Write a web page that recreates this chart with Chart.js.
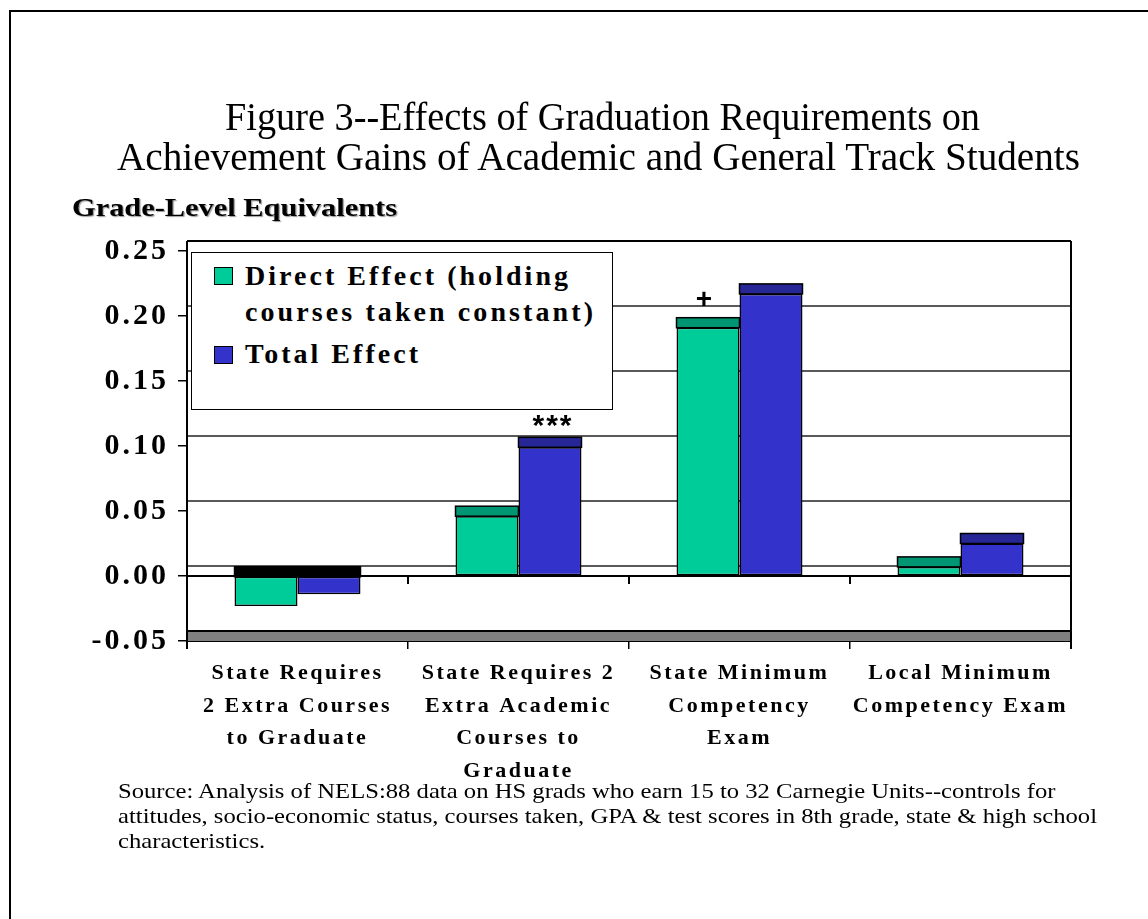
<!DOCTYPE html>
<html>
<head>
<meta charset="utf-8">
<title>Figure 3</title>
<script src="https://cdn.jsdelivr.net/npm/chart.js@4.4.1/dist/chart.umd.min.js"></script>
<style>
  html, body { margin: 0; padding: 0; background: #fff; overflow: hidden; }
  #page { position: relative; width: 1148px; height: 919px; overflow: hidden; font-family: "Liberation Serif", "Times New Roman", serif; color: #000; }
  #frame { position: absolute; left: 9px; top: 10px; width: 3000px; height: 3000px; border-left: 2px solid #000; border-top: 2px solid #000; }
  #chart { position: absolute; left: 0; top: 0; }
  .txt { position: absolute; white-space: nowrap; transform-origin: 0 0; line-height: 1; z-index: 3; }
  .title { font-size: 40px; }
  #ylab { left: 72px; top: 195px; font-size: 25px; font-weight: bold; text-shadow: 1px 1px 1px #999; }
  #legend { position: absolute; left: 191px; top: 252px; width: 422px; height: 158px; box-sizing: border-box; border: 1.5px solid #000; background: #fff; z-index: 2; }
  .sw { position: absolute; width: 19px; height: 18px; box-sizing: border-box; border: 1px solid #000; z-index: 3; }
  .lg { font-size: 28px; font-weight: bold; left: 245px; }
  #source { left: 118px; top: 779px; font-size: 21px; line-height: 25px; }
</style>
</head>
<body>
<div id="page">
  <div id="frame"></div>
  <canvas id="chart" width="1148" height="919"></canvas>

  <div class="txt title" id="t1" data-w="755" data-c="602" style="top:97px">Figure 3--Effects of Graduation Requirements on</div>
  <div class="txt title" id="t2" data-w="963" data-c="598" style="top:137px">Achievement Gains of Academic and General Track Students</div>
  <div class="txt" id="ylab" data-w="325">Grade-Level Equivalents</div>

  <div id="legend"></div>
  <div class="sw" style="left:214px;top:267px;background:#00CC99"></div>
  <div class="txt lg" data-ls="323" style="top:262px">Direct Effect (holding</div>
  <div class="txt lg" data-ls="348" style="top:298px">courses taken constant)</div>
  <div class="sw" style="left:214px;top:346px;background:#3333CC"></div>
  <div class="txt lg" data-ls="173" style="top:340px">Total Effect</div>

  <div class="txt" id="source">
    <div>Source: Analysis of NELS:88 data on HS grads who earn 15 to 32 Carnegie Units--controls for</div>
    <div id="src2">attitudes, socio-economic status, courses taken, GPA &amp; test scores in 8th grade, state &amp; high school</div>
    <div>characteristics.</div>
  </div>
</div>

<script>
const categories = [
  ["State Requires", "2 Extra Courses", "to Graduate"],
  ["State Requires 2", "Extra Academic", "Courses to", "Graduate"],
  ["State Minimum", "Competency", "Exam"],
  ["Local Minimum", "Competency Exam"]
];
const seriesNames  = ["Direct Effect (holding courses taken constant)", "Total Effect"];
const directEffect = [-0.023, 0.046, 0.191, 0.007];
const totalEffect  = [-0.014, 0.099, 0.217, 0.025];
const directNotes  = ["", "", "+", ""];
const totalNotes   = ["", "***", "", ""];
const yTicks       = [-0.05, 0.00, 0.05, 0.10, 0.15, 0.20, 0.25];

const faceColors = ["#00CC99", "#3333CC"];
const capColors  = ["#009673", "#262696"];
const notes      = [directNotes, totalNotes];
const DEPTH = 10;

document.querySelectorAll("[data-w]").forEach(el => {
  const target = +el.dataset.w;
  const w = el.getBoundingClientRect().width;
  if (el.dataset.c) el.style.left = (el.dataset.c - target / 2) + "px";
  el.style.transform = `scaleX(${target / w})`;
});
document.querySelectorAll("[data-ls]").forEach(el => {
  const w = el.getBoundingClientRect().width;
  const n = el.textContent.length;
  el.style.letterSpacing = ((+el.dataset.ls - w) / (n - 1)) + "px";
});
(() => {
  const src = document.getElementById("source");
  const w = document.getElementById("src2").getBoundingClientRect().width;
  src.style.transform = `scaleX(${979 / w})`;
})();

const depth3d = {
  id: "depth3d",
  beforeDraw(chart) {
    chart.ctx.letterSpacing = "3px";
  },
  beforeDatasetsDraw(chart) {
    const { ctx, chartArea: a, scales: { y } } = chart;
    const top = y.getPixelForValue(yTicks[yTicks.length - 1]) - DEPTH;
    ctx.save();
    ctx.letterSpacing = "0px";
    // floor
    const fy = y.getPixelForValue(yTicks[0]);
    ctx.fillStyle = "#808080";
    ctx.fillRect(a.left, fy - DEPTH, a.right - a.left, DEPTH);
    ctx.strokeStyle = "#000";
    ctx.lineWidth = 2;
    ctx.beginPath();
    ctx.moveTo(a.left, fy - DEPTH); ctx.lineTo(a.right, fy - DEPTH);
    ctx.stroke();
    // back wall gridlines
    ctx.strokeStyle = "#222";
    ctx.lineWidth = 1.5;
    yTicks.slice(1, -1).forEach(v => {
      const py = y.getPixelForValue(v) - DEPTH;
      ctx.beginPath(); ctx.moveTo(a.left, py); ctx.lineTo(a.right, py); ctx.stroke();
    });
    // top edge and side walls
    ctx.strokeStyle = "#000";
    ctx.lineWidth = 2;
    ctx.beginPath();
    ctx.moveTo(a.left, top); ctx.lineTo(a.right, top);
    ctx.moveTo(a.left, top); ctx.lineTo(a.left, a.bottom + 8);
    ctx.moveTo(a.right, top); ctx.lineTo(a.right, a.bottom + 8);
    ctx.stroke();
    ctx.restore();
  },
  afterDatasetsDraw(chart) {
    const { ctx, chartArea: a, scales: { y } } = chart;
    ctx.save();
    ctx.strokeStyle = "#000";
    ctx.lineWidth = 1.5;
    chart.data.datasets.forEach((ds, di) => {
      chart.getDatasetMeta(di).data.forEach((bar, i) => {
        const v = ds.data[i];
        const p = bar.getProps(["x", "y", "base", "width"], true);
        const left = p.x - p.width / 2;
        const edge = v >= 0 ? p.y : p.base;
        ctx.fillStyle = v >= 0 ? capColors[di] : "#000";
        ctx.fillRect(left, edge - DEPTH, p.width, DEPTH);
        ctx.strokeRect(left, edge - DEPTH, p.width, DEPTH);
        const note = notes[di][i];
        if (note) {
          const plus = note === "+";
          ctx.fillStyle = "#000";
          ctx.textAlign = "center";
          ctx.textBaseline = "alphabetic";
          ctx.letterSpacing = "2px";
          ctx.font = plus ? "bold 28px 'Liberation Sans'" : "bold 30px 'Liberation Sans'";
          ctx.fillText(note, p.x + (plus ? -3 : 3), edge - DEPTH - (plus ? 10 : 2));
        }
      });
    });
    // front edge of the floor at zero
    const zy = y.getPixelForValue(0);
    ctx.lineWidth = 2;
    ctx.beginPath();
    ctx.moveTo(a.left, zy); ctx.lineTo(a.right, zy);
    const step = (a.right - a.left) / categories.length;
    for (let i = 1; i < categories.length; i++) {
      ctx.moveTo(a.left + i * step, zy); ctx.lineTo(a.left + i * step, zy + 8);
    }
    ctx.stroke();
    ctx.restore();
    ctx.letterSpacing = "2.5px";
  }
};

new Chart(document.getElementById("chart"), {
  type: "bar",
  data: {
    labels: categories,
    datasets: [
      { label: seriesNames[0], data: directEffect, backgroundColor: faceColors[0] },
      { label: seriesNames[1], data: totalEffect, backgroundColor: faceColors[1] }
    ]
  },
  options: {
    responsive: false,
    animation: false,
    devicePixelRatio: 1,
    layout: { padding: { left: 0, top: 251, right: 77, bottom: 0 } },
    datasets: {
      bar: { categoryPercentage: 0.57, barPercentage: 1.0, borderColor: "#000", borderWidth: 1.5, borderSkipped: false }
    },
    plugins: { legend: { display: false }, tooltip: { enabled: false } },
    scales: {
      x: {
        afterFit: s => { s.height = 278; },
        grid: { drawOnChartArea: false, tickLength: 8, color: "#000", lineWidth: 1.5, offset: true },
        border: { display: true, color: "#000", width: 2 },
        ticks: {
          z: 1, color: "#000", padding: 8, autoSkip: false, maxRotation: 0, minRotation: 0,
          font: { family: "Liberation Serif", weight: "bold", size: 22, lineHeight: 1.48 }
        }
      },
      y: {
        min: yTicks[0], max: yTicks[yTicks.length - 1],
        afterFit: s => { s.width = 187; },
        afterBuildTicks: s => { s.ticks = yTicks.map(v => ({ value: v })); },
        grid: { drawOnChartArea: false, tickLength: 9, color: "#000", lineWidth: 1.5 },
        border: { display: false },
        ticks: {
          z: 0, color: "#000", padding: 9,
          font: { family: "Liberation Serif", weight: "bold", size: 30 },
          callback: v => v.toFixed(2)
        }
      }
    }
  },
  plugins: [depth3d]
});
</script>
</body>
</html>
